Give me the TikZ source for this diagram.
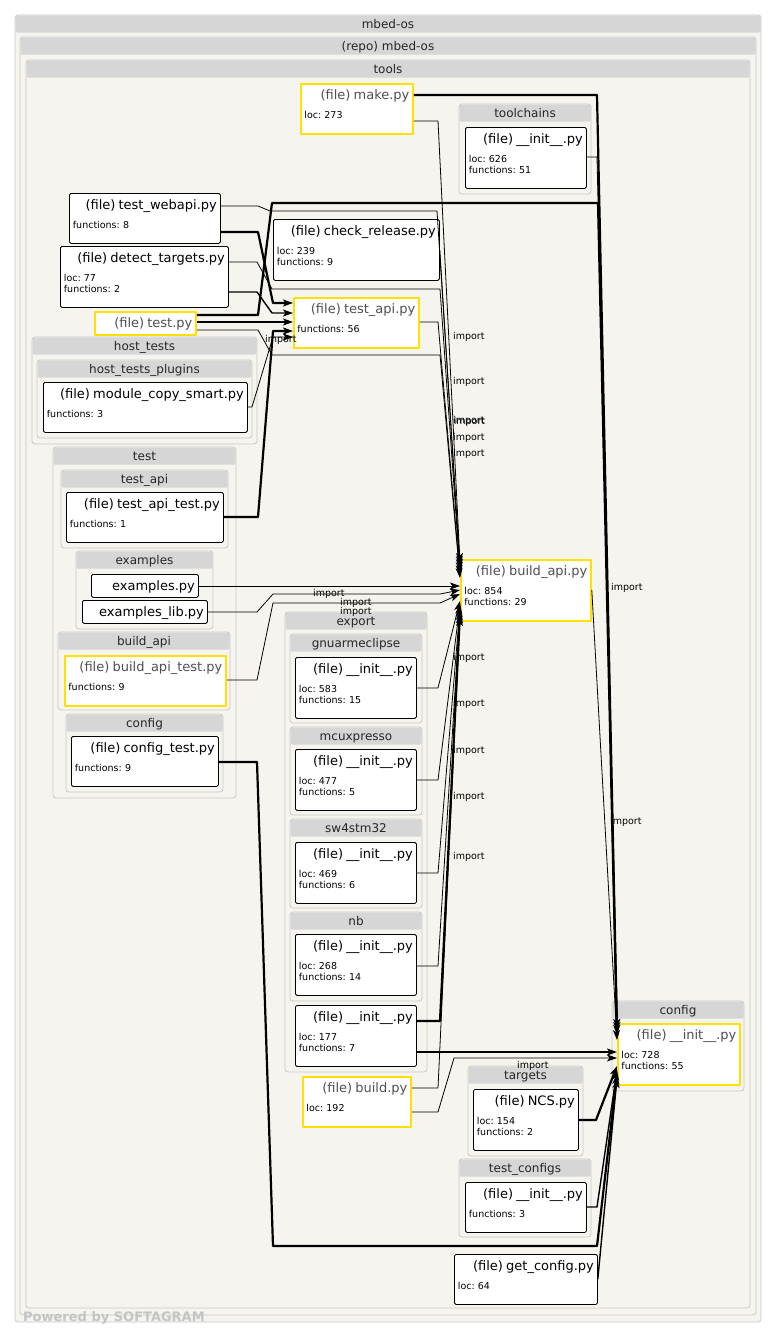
\documentclass[tikz,border=0pt]{standalone}
\usepackage{fontspec}
\setmainfont{DejaVu Sans}
\usetikzlibrary{arrows.meta}
\definecolor{pagebg}{HTML}{F5F4EE}
\definecolor{headgray}{HTML}{D6D6D6}
\definecolor{grpline}{HTML}{C9C9C9}
\definecolor{hotyellow}{HTML}{FFE000}
\definecolor{titlegray}{HTML}{505050}
\definecolor{powergray}{HTML}{C4C4C4}
\newcommand{\ftitle}{\fontsize{13}{11}\selectfont}
\newcommand{\htitle}{\fontsize{13}{11}\selectfont\color{titlegray}}

\begin{document}
\begin{tikzpicture}[x=1pt, y=-1pt, line join=round,
    grp/.style={draw=grpline, fill=pagebg, rounded corners=3pt, line width=0.8pt},
    ghead/.style={fill=headgray, rounded corners=2pt, anchor=north, inner xsep=0pt, inner ysep=4pt, text height=9pt, text depth=0pt, minimum height=17pt, font=\fontsize{12}{14}\selectfont, text=black!85},
    pyfile/.style={draw=black, fill=white, rounded corners=1.5pt, line width=0.8pt, anchor=north west, inner xsep=3.5pt, inner ysep=0pt, align=left, text height=16pt, font=\fontsize{9.5}{11}\selectfont\frenchspacing},
    hot/.style={pyfile, draw=hotyellow, rounded corners=0pt, line width=1.8pt},
    h23/.style={text depth=7pt},
    h50/.style={text depth=34pt},
    h61/.style={text depth=45pt},
    imp/.style={-{Stealth[length=10pt, width=7pt, inset=2.5pt]}, line width=0.8pt},
    mid/.style={line width=1.4pt},
    heavy/.style={line width=2.2pt},
    lbl/.style={anchor=west, inner sep=0pt, font=\fontsize{9.5}{11}\selectfont}]

    \useasboundingbox (0,0) rectangle (776,1336);
    \fill[white] (0,0) rectangle (776,1336);

    % containers
    \draw[grp] (15,15) rectangle (761,1322);
    \node (hdr_mbedos) [ghead, minimum width=745pt] at (388,15.5) {mbed-os};
    \draw[grp] (20,37) rectangle (756,1315);
    \node (hdr_repo) [ghead, minimum width=735pt] at (388,37.5) {(repo) mbed-os};
    \draw[grp] (26,60) rectangle (750,1308);
    \node (hdr_tools) [ghead, minimum width=723pt] at (388,60.5) {tools};

    \draw[grp] (459,104) rectangle (591,194);
    \node (hdr_toolchains) [ghead, minimum width=131pt] at (525,104.5) {toolchains};
    \draw[grp] (32,337) rectangle (257,444);
    \node (hdr_hosttests) [ghead, minimum width=224pt] at (144.5,337.5) {host\_tests};
    \draw[grp] (37,360) rectangle (252,438);
    \node (hdr_plugins) [ghead, minimum width=214pt] at (144.5,360.5) {host\_tests\_plugins};
    \draw[grp] (53,447) rectangle (236,798);
    \node (hdr_test) [ghead, minimum width=182pt] at (144.5,447.5) {test};
    \draw[grp] (61,470) rectangle (228,548);
    \node (hdr_testapi) [ghead, minimum width=166pt] at (144.5,470.5) {test\_api};
    \draw[grp] (76,551) rectangle (213,629);
    \node (hdr_examples) [ghead, minimum width=136pt] at (144.5,551.5) {examples};
    \draw[grp] (58,632) rectangle (230,710);
    \node (hdr_buildapi) [ghead, minimum width=171pt] at (144,632.5) {build\_api};
    \draw[grp] (66,714) rectangle (223,792);
    \node (hdr_testconfig) [ghead, minimum width=156pt] at (144.5,714.5) {config};
    \draw[grp] (285,612) rectangle (427,1072);
    \node (hdr_export) [ghead, minimum width=141pt] at (356,612.5) {export};
    \draw[grp] (290,634) rectangle (422,723);
    \node (hdr_gnu) [ghead, minimum width=131pt] at (356,634.5) {gnuarmeclipse};
    \draw[grp] (290,727) rectangle (422,815);
    \node (hdr_mcu) [ghead, minimum width=131pt] at (356,727.5) {mcuxpresso};
    \draw[grp] (290,819) rectangle (422,908);
    \node (hdr_sw4) [ghead, minimum width=131pt] at (356,819.5) {sw4stm32};
    \draw[grp] (290,912) rectangle (422,1001);
    \node (hdr_nb) [ghead, minimum width=131pt] at (356,912.5) {nb};
    \draw[grp] (612,1001) rectangle (744,1091);
    \node (hdr_config) [ghead, minimum width=131pt] at (678,1001.5) {config};
    \draw[grp] (468,1066) rectangle (583,1156);
    \node (hdr_targets) [ghead, minimum width=114pt] at (525.5,1066.5) {targets};
    \draw[grp] (459,1159) rectangle (591,1237);
    \node (hdr_testconfigs) [ghead, minimum width=131pt] at (525,1159.5) {test\_configs};

    % files
    \node (make) [hot, h50, text width=105pt] at (300,83) {\hfill{\htitle (file) make.py}\\[8pt] loc: 273};
    \node (toolinit) [pyfile, h61, text width=114pt] at (465,127) {\hfill{\ftitle (file) \_\_init\_\_.py}\\[8pt] loc: 626\\ functions: 51};
    \node (webapi) [pyfile, h50, text width=144pt] at (69,193) {\hfill{\ftitle (file) test\_webapi.py}\\[8pt] functions: 8};
    \node (check) [pyfile, h61, text width=159pt] at (273,219) {\hfill{\ftitle (file) check\_release.py}\\[8pt] loc: 239\\ functions: 9};
    \node (detect) [pyfile, h61, text width=161pt] at (60,246) {\hfill{\ftitle (file) detect\_targets.py}\\[8pt] loc: 77\\ functions: 2};
    \node (testpy) [hot, h23, text width=94pt] at (94,311) {\hfill{\htitle (file) test.py}};
    \node (tapi) [hot, h50, text width=118pt] at (293,297) {\hfill{\htitle (file) test\_api.py}\\[8pt] functions: 56};
    \node (modcopy) [pyfile, h50, text width=197pt] at (43,382) {\hfill{\ftitle (file) module\_copy\_smart.py}\\[8pt] functions: 3};
    \node (tapitest) [pyfile, h50, text width=150pt] at (66,492) {\hfill{\ftitle (file) test\_api\_test.py}\\[8pt] functions: 1};
    \node (examples) [pyfile, h23, text width=100pt] at (91,574) {\hfill{\ftitle examples.py}};
    \node (exlib) [pyfile, h23, text width=118pt] at (82,600) {\hfill{\ftitle examples\_lib.py}};
    \node (batest) [hot, h50, text width=154pt] at (64,655) {\hfill{\htitle (file) build\_api\_test.py}\\[8pt] functions: 9};
    \node (cfgtest) [pyfile, h50, text width=140pt] at (71,736) {\hfill{\ftitle (file) config\_test.py}\\[8pt] functions: 9};
    \node (bapi) [hot, h61, text width=123pt] at (460,559) {\hfill{\htitle (file) build\_api.py}\\[8pt] loc: 854\\ functions: 29};
    \node (gnuinit) [pyfile, h61, text width=114pt] at (295,657) {\hfill{\ftitle (file) \_\_init\_\_.py}\\[8pt] loc: 583\\ functions: 15};
    \node (mcuinit) [pyfile, h61, text width=114pt] at (295,749) {\hfill{\ftitle (file) \_\_init\_\_.py}\\[8pt] loc: 477\\ functions: 5};
    \node (sw4init) [pyfile, h61, text width=114pt] at (295,842) {\hfill{\ftitle (file) \_\_init\_\_.py}\\[8pt] loc: 469\\ functions: 6};
    \node (nbinit) [pyfile, h61, text width=114pt] at (295,934) {\hfill{\ftitle (file) \_\_init\_\_.py}\\[8pt] loc: 268\\ functions: 14};
    \node (expinit) [pyfile, h61, text width=114pt] at (295,1005) {\hfill{\ftitle (file) \_\_init\_\_.py}\\[8pt] loc: 177\\ functions: 7};
    \node (build) [hot, h50, text width=101pt] at (302,1076) {\hfill{\htitle (file) build.py}\\[8pt] loc: 192};
    \node (cfginit) [hot, h61, text width=115pt] at (617,1023) {\hfill{\htitle (file) \_\_init\_\_.py}\\[8pt] loc: 728\\ functions: 55};
    \node (ncs) [pyfile, h61, text width=98pt] at (473,1089) {\hfill{\ftitle (file) NCS.py}\\[8pt] loc: 154\\ functions: 2};
    \node (tcinit) [pyfile, h50, text width=114pt] at (465,1182) {\hfill{\ftitle (file) \_\_init\_\_.py}\\[8pt] functions: 3};
    \node (getcfg) [pyfile, h50, text width=136pt] at (454,1254) {\hfill{\ftitle (file) get\_config.py}\\[8pt] loc: 64};

    % imports into test_api.py
    \draw[imp, heavy] (webapi.east |- 0,232) -- (258,232) -- (273,303) -- (tapi.west |- 0,303);
    \draw[imp, mid] (detect.east |- 0,292) -- (257,292) -- (272,313) -- (tapi.west |- 0,313);
    \draw[imp, heavy, line width=2.8pt] (testpy.east |- 0,322) -- (tapi.west |- 0,322);
    \draw[imp, heavy] (tapitest.east |- 0,517) -- (258,517) -- (273,331) -- (tapi.west |- 0,331);
    \draw[imp] (modcopy.east |- 0,407) -- (252,407) -- (273,337) -- (tapi.west |- 0,337);

    % imports into build_api.py
    \draw[imp] (make.east |- 0,121) -- (438,121) -- (bapi.west |- 0,563);
    \draw[imp] (webapi.east |- 0,206) -- (258,206) -- (270,211) -- (437,211) -- (bapi.west |- 0,566);
    \draw[imp] (check.east |- 0,250) -- (bapi.west |- 0,569);
    \draw[imp] (detect.east |- 0,262) -- (257,262) -- (272,289) -- (440,289) -- (bapi.west |- 0,572);
    \draw[imp] (tapi.east |- 0,322) -- (438,322) -- (bapi.west |- 0,575);
    \draw[imp] (testpy.east |- 0,330) -- (258,330) -- (272,355) -- (440,355) -- (bapi.west |- 0,578);
    \draw[imp] (examples.east |- 0,586) -- (bapi.west |- 0,586);
    \draw[imp] (exlib.east |- 0,612) -- (257,612) -- (273,594) -- (440,594) -- (bapi.west |- 0,590);
    \draw[imp] (batest.east |- 0,680) -- (257,680) -- (273,603) -- (440,603) -- (bapi.west |- 0,594);
    \draw[imp] (gnuinit.east |- 0,688) -- (438,688) -- (bapi.west |- 0,601);
    \draw[imp] (mcuinit.east |- 0,780) -- (438,780) -- (bapi.west |- 0,604);
    \draw[imp] (sw4init.east |- 0,873) -- (438,873) -- (bapi.west |- 0,607);
    \draw[imp] (nbinit.east |- 0,966) -- (438,966) -- (bapi.west |- 0,610);
    \draw[imp, heavy] (expinit.east |- 0,1021) -- (440,1021) -- (bapi.west |- 0,613);
    \draw[imp] (build.east |- 0,1088) -- (438,1088) -- (bapi.west |- 0,616);

    % imports into config/__init__.py
    \draw[imp, heavy] (make.east |- 0,95) -- (597,95) -- (cfginit.west |- 0,1029);
    \draw[imp] (toolinit.east |- 0,157) -- (597,157) -- (cfginit.west |- 0,1032);
    \draw[imp, heavy] (testpy.east |- 0,315) -- (258,315) -- (272,203) -- (598,203) -- (cfginit.west |- 0,1035);
    \draw[imp] (bapi.east |- 0,590) -- (cfginit.west |- 0,1040);
    \draw[imp, heavy] (expinit.east |- 0,1052) -- (cfginit.west |- 0,1052);
    \draw[imp] (build.east |- 0,1112) -- (438,1112) -- (454,1058) -- (cfginit.west |- 0,1058);
    \draw[imp, heavy] (ncs.east |- 0,1120) -- (596,1120) -- (cfginit.west |- 0,1066);
    \draw[imp, mid] (tcinit.east |- 0,1207) -- (597,1207) -- (cfginit.west |- 0,1070);
    \draw[imp, heavy] (cfgtest.east |- 0,762) -- (257,762) -- (273,1246) -- (597,1246) -- (cfginit.west |- 0,1074);
    \draw[imp, mid] (getcfg.east |- 0,1279) -- (cfginit.west |- 0,1078);

    % edge labels
    \node (lbl_a1) [lbl] at (453,337) {import};
    \node (lbl_a2) [lbl] at (453,382) {import};
    \node (lbl_a3) [lbl] at (453,421) {import};
    \node (lbl_a4) [lbl] at (453.6,421.4) {import};
    \node (lbl_a5) [lbl] at (453,438) {import};
    \node (lbl_a6) [lbl] at (453,454) {import};
    \node (lbl_b1) [lbl] at (453,658) {import};
    \node (lbl_b2) [lbl] at (453,704) {import};
    \node (lbl_b3) [lbl] at (453,751) {import};
    \node (lbl_b4) [lbl] at (453,797) {import};
    \node (lbl_b5) [lbl] at (453,857) {import};
    \node (lbl_c1) [lbl] at (313,594) {import};
    \node (lbl_c2) [lbl] at (340,603) {import};
    \node (lbl_c3) [lbl] at (340,612) {import};
    \node (lbl_d1) [lbl] at (265,340) {import};
    \node (lbl_e1) [lbl] at (611,588) {import};
    \node (lbl_e2) [lbl] at (610,822) {import};
    \node (lbl_e3) [lbl] at (517,1066) {import};

    \node (powered) [anchor=base west, inner sep=0pt, text=powergray, font=\bfseries\fontsize{13}{15}\selectfont] at (23,1321) {Powered by SOFTAGRAM};
\end{tikzpicture}
\end{document}
